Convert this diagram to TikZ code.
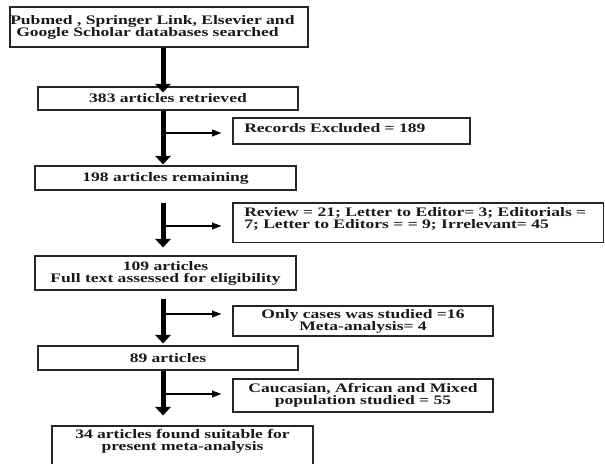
\documentclass[tikz,border=0pt]{standalone}
\usepackage{fontspec}
\setmainfont{Liberation Serif}[FakeStretch=1.35]
\usetikzlibrary{arrows.meta,calc}
\newcommand\flowtxt{\fontsize{9.75}{9}\selectfont\bfseries}
\begin{document}
\begin{tikzpicture}[x=0.75pt,y=-0.75pt,
  box/.style={draw=black!85, line width=0.8pt, inner sep=0pt, align=center, font=\flowtxt, text=black!90},
  txt/.style={inner sep=0pt, font=\flowtxt, text=black!90},
  mainarr/.style={line width=3.75pt, -{Triangle[length=6.5pt,width=11.5pt]}},
  sidearr/.style={line width=1.1pt, -{Triangle[length=7pt,width=5pt]}}]
\useasboundingbox (0,0) rectangle (605,463);
\coordinate (col) at (163,0);
% left column boxes
\node[box, minimum width=223.5pt, minimum height=30pt] (b1) at (159,27) {};
\node[txt, anchor=west, align=left] (t1) at (10,27.5) {Pubmed , Springer Link, Elsevier and\\\hspace{4.5pt}Google Scholar databases searched};
\node[box, minimum width=195pt, minimum height=17.25pt] (b2) at (168,98.5) {383 articles retrieved};
\node[box, minimum width=195.75pt, minimum height=18pt] (b3) at (165.5,178) {198 articles remaining};
\node[box, minimum width=195.75pt, minimum height=25.5pt] (b4) at (165.5,273) {109 articles\\Full text assessed for eligibility};
\node[box, minimum width=195pt, minimum height=18pt] (b5) at (168,358) {89 articles};
\node[box, minimum width=195.75pt, minimum height=33pt] (b6) at (182.5,448) {};
\node[txt, align=center] (t6) at (182.5,441.5) {34 articles found suitable for\\present meta-analysis};
% right column boxes
\node[box, minimum width=177.75pt, minimum height=19.5pt] (r1) at (351.5,131) {};
\node[txt, anchor=west] (tr1) at (244,128.5) {Records Excluded = 189};
\node[box, minimum width=277.9pt, minimum height=29.6pt] (r2) at (418.25,222.75) {};
\node[txt, anchor=west, align=left] (tr2) at (244,218.5) {Review = 21; Letter to Editor= 3; Editorials =\\7; Letter to Editors = = 9; Irrelevant= 45};
\node[box, minimum width=195pt, minimum height=22.5pt] (r3) at (363,321) {Only cases was studied =16\\Meta-analysis= 4};
\node[box, minimum width=195pt, minimum height=24.75pt] (r4) at (363,395.5) {Caucasian, African and Mixed\\population studied = 55};
% main arrows
\draw[mainarr] (b1.south -| col) -- ($(b2.north -| col)+(0,6)$);
\draw[mainarr] (b2.south -| col) -- ($(b3.north -| col)+(0,-1)$);
\draw[mainarr] ($(b3.south -| col)+(0,12)$) -- ($(b4.north -| col)+(0,-8)$);
\draw[mainarr] ($(b4.south -| col)+(0,8)$) -- ($(b5.north -| col)+(0,-2)$);
\draw[mainarr] (b5.south -| col) -- ($(b6.north -| col)+(0,-10)$);
% side arrows
\draw[sidearr] ($(col |- r1.west)+(0,2)$) -- ($(r1.west)+(-11,2)$);
\draw[sidearr] ($(col |- r2.west)+(0,3.25)$) -- ($(r2.west)+(-11,3.25)$);
\draw[sidearr] ($(col |- r3.west)+(0,-7)$) -- ($(r3.west)+(-11,-7)$);
\draw[sidearr] ($(col |- r4.west)+(0,-1.5)$) -- ($(r4.west)+(-11,-1.5)$);
\end{tikzpicture}
\end{document}
